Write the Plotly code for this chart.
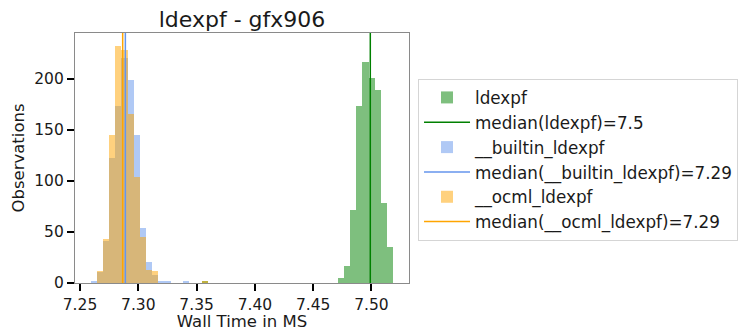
import plotly.graph_objects as go

# ---- data ----
bin_start = 7.2643
bin_width = 0.0053

ldexpf_bins = [17, 39, 40, 41, 42, 43, 44, 45, 46, 47]
ldexpf_counts = [1, 5, 17, 71, 173, 216, 201, 189, 78, 35]

builtin_bins = [-1, 0, 1, 2, 3, 4, 5, 6, 7, 8, 9, 10, 11, 14]
builtin_counts = [1, 11, 41, 122, 173, 220, 199, 145, 54, 21, 8, 2, 1, 1]

ocml_bins = [0, 1, 2, 3, 4, 5, 6, 7, 8, 9, 17]
ocml_counts = [12, 43, 145, 232, 228, 165, 104, 45, 13, 12, 1]

median_ldexpf = 7.499
median_builtin = 7.2889
median_ocml = 7.2866

x_ticks = [7.25, 7.30, 7.35, 7.40, 7.45, 7.50]
y_ticks = [0, 50, 100, 150, 200]
x_range = [7.2457, 7.5322]
y_range = [0, 244.7]

series = [
    ("ldexpf", ldexpf_bins, ldexpf_counts, median_ldexpf, "#008000"),
    ("__builtin_ldexpf", builtin_bins, builtin_counts, median_builtin, "#6495ED"),
    ("__ocml_ldexpf", ocml_bins, ocml_counts, median_ocml, "#FFA500"),
]

font = "DejaVu Sans"
fig = go.Figure()
for i, (name, bins, counts, med, color) in enumerate(series):
    centers = [bin_start + (k + 0.5) * bin_width for k in bins]
    fig.add_trace(go.Bar(
        x=centers, y=counts, width=bin_width, name=name, legendgroup=f"h{i}",
        marker=dict(color=color, line=dict(width=0)), opacity=0.5,
    ))
    fig.add_trace(go.Scatter(
        x=[med, med], y=y_range, mode="lines", legendgroup=f"m{i}",
        name=f"median({name})={round(med, 2):g}",
        line=dict(color=color, width=1.5),
    ))

axis_common = dict(
    showgrid=False, zeroline=False, showline=True, mirror=True,
    linecolor="#8a8a8a", linewidth=1.2, automargin=False,
    ticks="outside", ticklen=7, tickwidth=1.6, tickcolor="black",
    tickfont=dict(family=font, size=15.5, color="#1a1a1a"),
)

fig.update_layout(
    width=740, height=331,
    margin=dict(l=75, r=331, t=33, b=48, autoexpand=False),
    paper_bgcolor="white", plot_bgcolor="white",
    barmode="overlay", bargap=0,
    title=dict(text="ldexpf - gfx906", x=242 / 740, xanchor="center",
               y=1 - 19 / 331, yanchor="middle",
               font=dict(family=font, size=22, color="#1a1a1a")),
    xaxis=dict(range=x_range, tickvals=x_ticks, ticktext=[f"{v:.2f}" for v in x_ticks],
               title=dict(text="Wall Time in MS", standoff=1,
                          font=dict(family=font, size=16.5, color="#1a1a1a")),
               **axis_common),
    yaxis=dict(range=y_range, tickvals=y_ticks,
               title=dict(text="Observations", standoff=5,
                          font=dict(family=font, size=16.5, color="#1a1a1a")),
               **axis_common),
    legend=dict(x=1.027, y=0.816, xanchor="left", yanchor="top",
                font=dict(family=font, size=16.8, color="#1a1a1a"),
                bordercolor="#d5d5d5", borderwidth=1, bgcolor="white",
                itemwidth=46, tracegroupgap=0),
    showlegend=True,
)

fig.write_html(
    "out.html",
    config={"displayModeBar": False},
    post_script="document.body.style.margin='0';document.body.style.padding='0';",
)
